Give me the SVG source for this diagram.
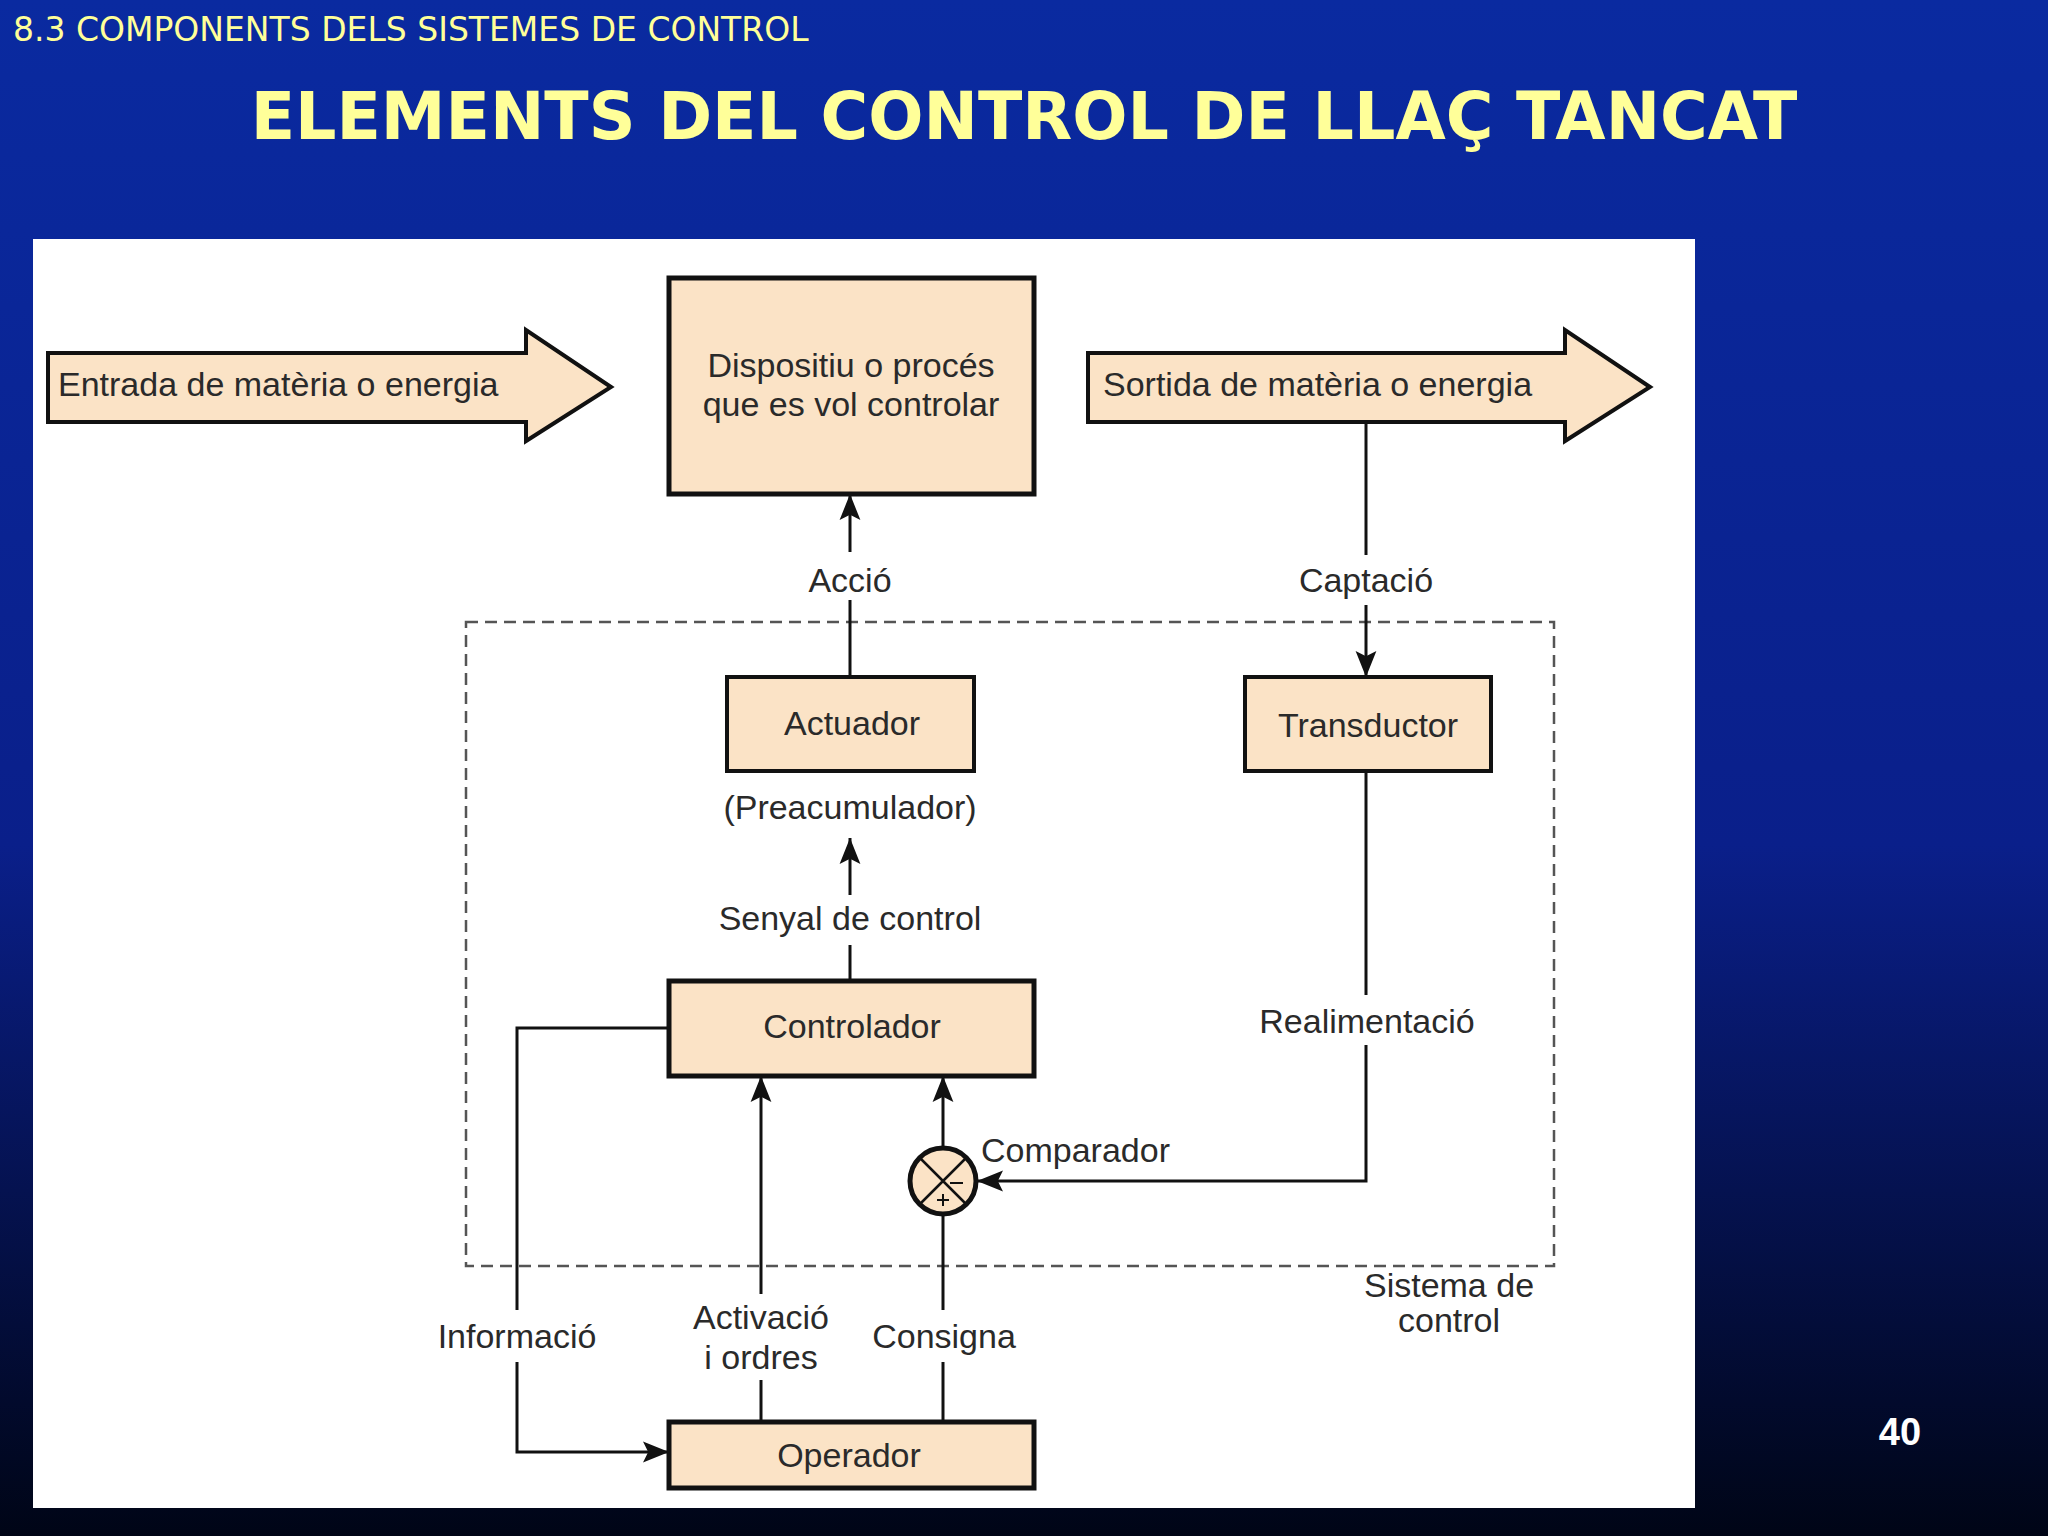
<svg xmlns="http://www.w3.org/2000/svg" width="2048" height="1536" viewBox="0 0 2048 1536">
<defs>
<linearGradient id="bg" x1="0" y1="0" x2="0" y2="1">
<stop offset="0" stop-color="#0a2aa0"/><stop offset="0.55" stop-color="#0a1f8a"/><stop offset="1" stop-color="#000516"/>
</linearGradient>
<marker id="a" viewBox="0 0 10 10" refX="10" refY="5" markerWidth="26" markerHeight="26" markerUnits="userSpaceOnUse" orient="auto"><path d="M0,1 L10,5 L0,9 L2,5 z" fill="#111"/></marker>
</defs>
<style>
.b{fill:#fbe3c6;stroke:#111;stroke-width:4}
.bt{fill:#fbe3c6;stroke:#111;stroke-width:5}
.t{font-family:"Liberation Sans",Arial,sans-serif;font-size:34px;fill:#2a2a2a;text-anchor:middle}
.s{text-anchor:start}
.l{stroke:#111;stroke-width:3;fill:none}
.h{font-family:"Comic Sans MS","DejaVu Sans",sans-serif;fill:#ffff99}
</style>
<rect width="2048" height="1536" fill="url(#bg)"/>
<text class="h" x="13" y="41" font-size="33">8.3 COMPONENTS DELS SISTEMES DE CONTROL</text>
<text class="h" x="1024" y="139" font-size="65" font-weight="bold" text-anchor="middle">ELEMENTS DEL CONTROL DE LLAÇ TANCAT</text>
<text x="1900" y="1445" font-family="Liberation Sans,Arial,sans-serif" font-size="38" font-weight="bold" fill="#fff" text-anchor="middle">40</text>
<rect x="33" y="239" width="1662" height="1269" fill="#fff"/>
<rect x="466" y="622" width="1088" height="644" fill="none" stroke="#555" stroke-width="2.5" stroke-dasharray="12,7"/>
<g id="connectors">
<path class="l" d="M850 677 V600"/><path class="l" d="M850 552 V494" marker-end="url(#a)"/>
<path class="l" d="M1366 422 V555"/><path class="l" d="M1366 605 V677" marker-end="url(#a)"/>
<path class="l" d="M850 981 V945"/><path class="l" d="M850 895 V838" marker-end="url(#a)"/>
<path class="l" d="M1366 771 V995"/><path class="l" d="M1366 1045 V1181 H977" marker-end="url(#a)"/>
<path class="l" d="M943 1147 V1076" marker-end="url(#a)"/>
<path class="l" d="M943 1422 V1362"/><path class="l" d="M943 1310 V1215"/>
<path class="l" d="M761 1422 V1380"/><path class="l" d="M761 1294 V1076" marker-end="url(#a)"/>
<path class="l" d="M669 1028 H517 V1310"/><path class="l" d="M517 1362 V1452 H669" marker-end="url(#a)"/>
</g>
<g id="entrada"><path class="b" d="M48 353 H526 V330 L611 387 L526 441 V422 H48 Z"/><text class="t s" x="58" y="396">Entrada de matèria o energia</text></g>
<g id="sortida"><path class="b" d="M1088 353 H1565 V330 L1650 387 L1565 441 V422 H1088 Z"/><text class="t s" x="1103" y="396">Sortida de matèria o energia</text></g>
<g id="dispositiu"><rect class="bt" x="669" y="278" width="365" height="216"/><text class="t" x="851" y="377">Dispositiu o procés</text><text class="t" x="851" y="416">que es vol controlar</text></g>
<g id="actuador"><rect class="b" x="727" y="677" width="247" height="94"/><text class="t" x="852" y="735">Actuador</text></g>
<g id="transductor"><rect class="b" x="1245" y="677" width="246" height="94"/><text class="t" x="1368" y="737">Transductor</text></g>
<g id="controlador"><rect class="bt" x="669" y="981" width="365" height="95"/><text class="t" x="852" y="1038">Controlador</text></g>
<g id="operador"><rect class="bt" x="669" y="1422" width="365" height="66"/><text class="t" x="849" y="1467">Operador</text></g>
<g id="comparador"><circle cx="943" cy="1181" r="33" fill="#fbe3c6" stroke="#111" stroke-width="5"/>
<path d="M920 1158 L966 1204 M966 1158 L920 1204" stroke="#111" stroke-width="2.5"/>
<path d="M950 1183 H963 M937 1200 H949 M943 1194 V1206" stroke="#111" stroke-width="2"/>
<text class="t s" x="981" y="1162">Comparador</text></g>
<g id="labels">
<text class="t" x="850" y="592">Acció</text>
<text class="t" x="1366" y="592">Captació</text>
<text class="t" x="850" y="819">(Preacumulador)</text>
<text class="t" x="850" y="930">Senyal de control</text>
<text class="t" x="1367" y="1033">Realimentació</text>
<text class="t" x="1449" y="1297" font-size="28">Sistema de</text>
<text class="t" x="1449" y="1332" font-size="28">control</text>
<text class="t" x="517" y="1348">Informació</text>
<text class="t" x="761" y="1329">Activació</text>
<text class="t" x="761" y="1369">i ordres</text>
<text class="t" x="944" y="1348">Consigna</text>
</g>
</svg>
